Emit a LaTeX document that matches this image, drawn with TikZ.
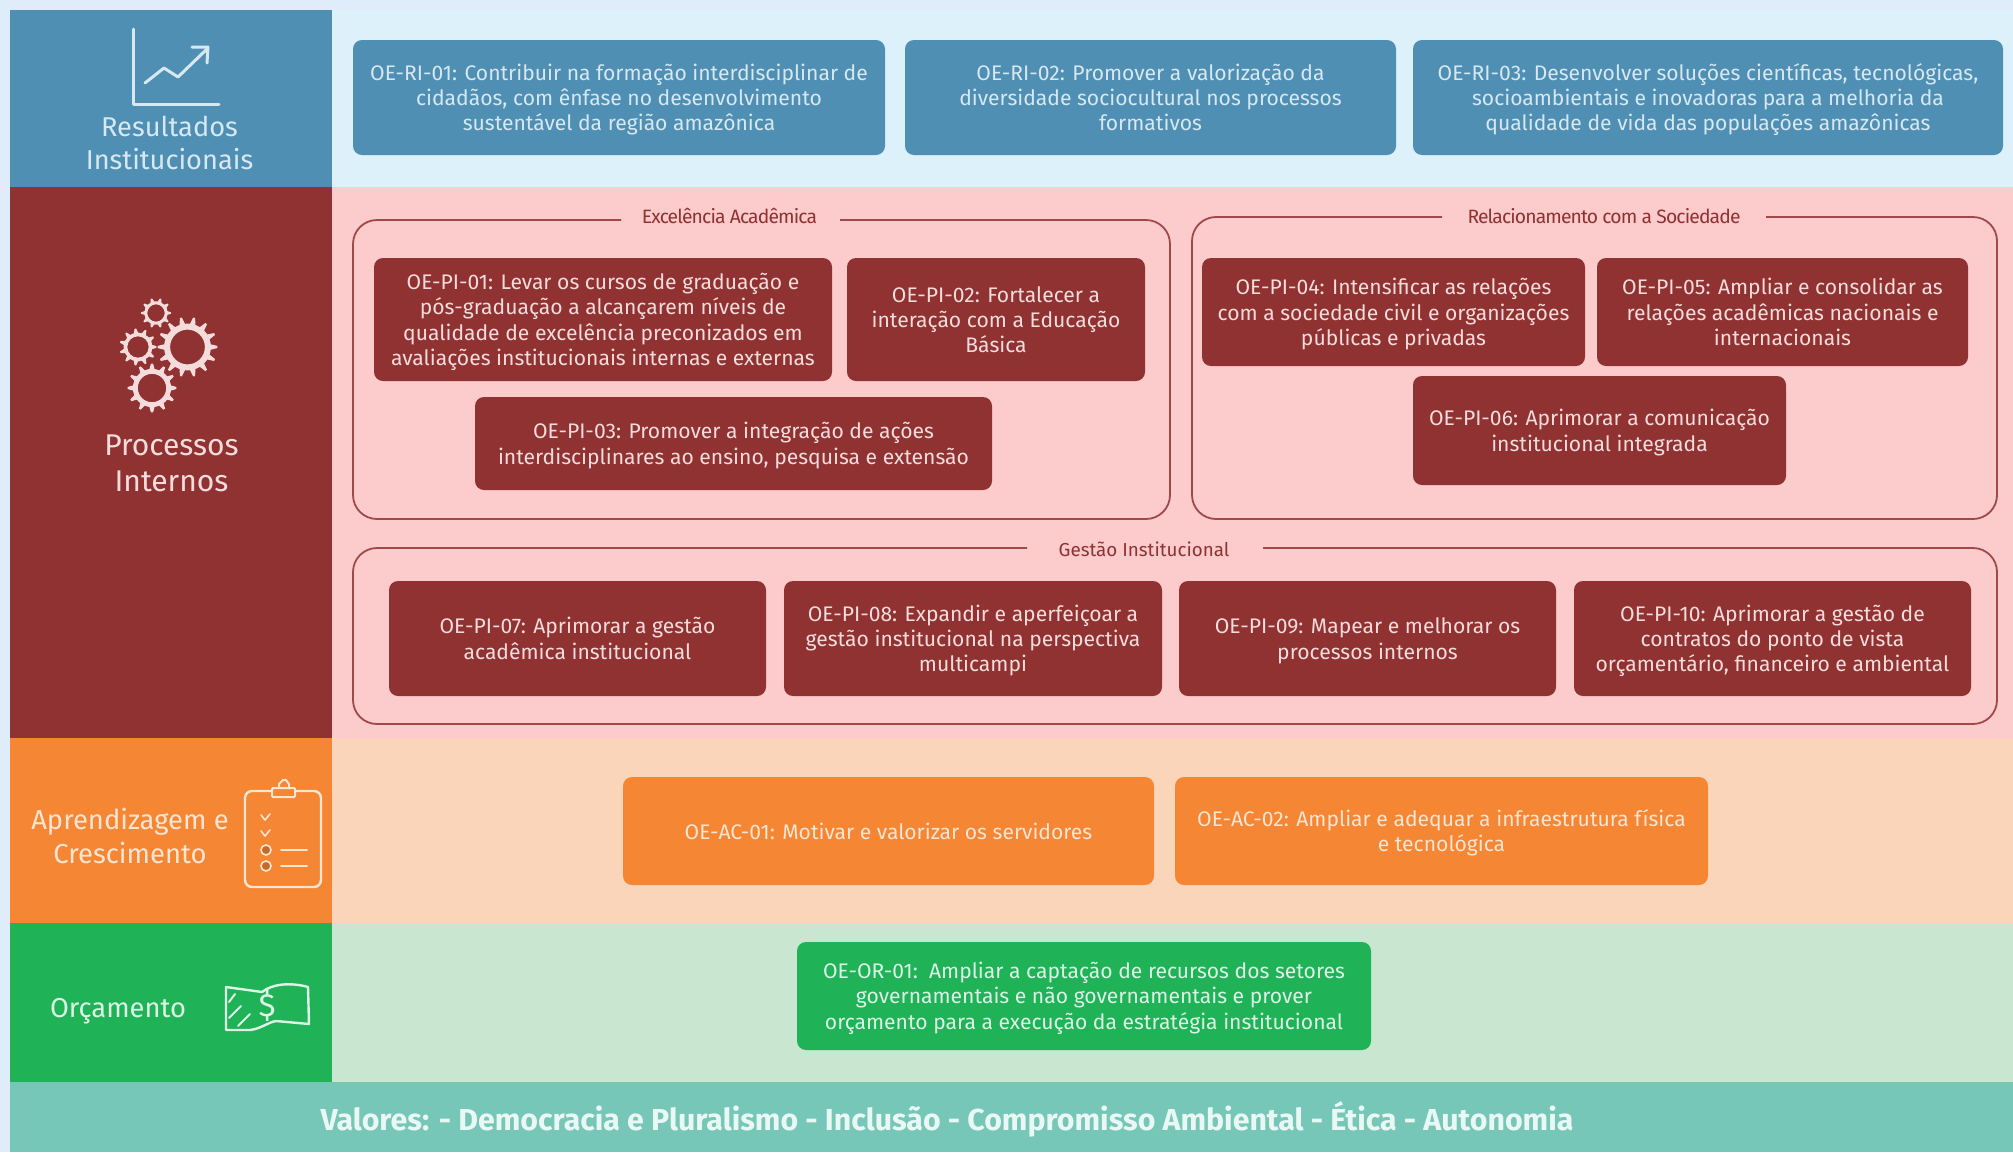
\documentclass[tikz,border=0pt]{standalone}
\usepackage{fontspec}
\setmainfont{Fira Sans}
\newfontfamily\tightf[LetterSpace=-4.5]{Fira Sans}
\definecolor{bgblue}{HTML}{DFEDFB}
\definecolor{blueD}{HTML}{4F8FB3}
\definecolor{blueL}{HTML}{DDF1FA}
\definecolor{blueT}{HTML}{D8E8F1}
\definecolor{redD}{HTML}{8F3231}
\definecolor{redL}{HTML}{FCCBCC}
\definecolor{redT}{HTML}{F5DCDC}
\definecolor{orD}{HTML}{F58634}
\definecolor{orL}{HTML}{FBD5BA}
\definecolor{orT}{HTML}{FCE5D2}
\definecolor{grD}{HTML}{1FB257}
\definecolor{grL}{HTML}{C8E6D0}
\definecolor{grT}{HTML}{DDF5E6}
\definecolor{teal}{HTML}{76C7B7}
\definecolor{tealT}{HTML}{EAF8F5}
\tikzset{
  x=1pt,y=-1pt,
  objbox/.style={rounded corners=9pt,inner sep=0pt,align=center,font=\fontsize{21.1}{25.2}\selectfont},
  sidelabel/.style={align=center,inner sep=0pt},
  frameline/.style={draw=redD!85!redL,line width=1.8pt,rounded corners=24pt},
  grouplabel/.style={inner sep=0pt,text=redD,font=\tightf\fontsize{19.3}{22}\selectfont},
  iconline/.style={line width=2pt,line cap=round,line join=round},
}
\newcommand{\objnode}[7]{%
  \pgfmathsetmacro{\cxx}{(#2+#4)/2}\pgfmathsetmacro{\cyy}{(#3+#5)/2}%
  \pgfmathsetmacro{\www}{#4-#2}\pgfmathsetmacro{\hhh}{#5-#3}%
  \node[objbox,fill=#6D,text=#6T,minimum width=\www pt,minimum height=\hhh pt] (#1) at (\cxx,\cyy) {\rule{0pt}{21pt}#7\rule[-5pt]{0pt}{5pt}};}
\newcommand{\gearicon}[4]{% x y r teeth
  \draw[iconline,draw=redT,line width=#3*0.2pt] (#1,#2) circle ({#3*0.68});
  \pgfmathsetmacro{\stepang}{360/#4}%
  \foreach \k in {1,...,#4}{
    \pgfmathsetmacro{\aa}{\k*\stepang}%
    \fill[redT] ({#1+#3*0.74*cos(\aa-\stepang*0.3)},{#2+#3*0.74*sin(\aa-\stepang*0.3)}) -- ({#1+#3*cos(\aa-\stepang*0.08)},{#2+#3*sin(\aa-\stepang*0.08)}) -- ({#1+#3*cos(\aa+\stepang*0.08)},{#2+#3*sin(\aa+\stepang*0.08)}) -- ({#1+#3*0.74*cos(\aa+\stepang*0.3)},{#2+#3*0.74*sin(\aa+\stepang*0.3)}) -- cycle;
  }}
\begin{document}
\begin{tikzpicture}
\useasboundingbox (0,0) rectangle (2013,1152);
% bands
\fill[bgblue] (0,0) rectangle (2013,1152);
\fill[blueL] (10,10) rectangle (2013,187);
\fill[redL] (10,187) rectangle (2013,738);
\fill[orL] (10,738) rectangle (2013,923);
\fill[grL] (10,923) rectangle (2013,1082);
\fill[blueD] (10,10) rectangle (332,187);
\fill[redD] (10,187) rectangle (332,738);
\fill[orD] (10,738) rectangle (332,923);
\fill[grD] (10,923) rectangle (332,1082);
\fill[teal] (10,1082) rectangle (2013,1152);
% side labels
\node[sidelabel,text=blueT,font=\fontsize{27.2}{33}\selectfont] (lri) at (169.5,142.5) {Resultados\\Institucionais};
\node[sidelabel,text=redT,font=\fontsize{30}{36}\selectfont] (lpi) at (171.5,463) {Processos\\Internos};
\node[sidelabel,text=orT,font=\fontsize{27.4}{34}\selectfont] (lac) at (130,836) {Aprendizagem e\\Crescimento};
\node[sidelabel,text=grT,font=\fontsize{27.3}{34}\selectfont] (lor) at (118,1011) {Orçamento};
\node[sidelabel,text=tealT,font=\bfseries\fontsize{30.3}{34}\selectfont] (vals) at (947,1119) {Valores: - Democracia e Pluralismo - Inclusão - Compromisso Ambiental - Ética - Autonomia};
% chart icon
\draw[iconline,draw=blueT,line width=3pt] (133,29) -- (133,104) -- (219,104);
\draw[iconline,draw=blueT,line width=3pt] (145,83) -- (164,68) -- (178,77) -- (207,49);
\draw[iconline,draw=blueT,line width=3pt] (192,47) -- (208,47) -- (207,63);
% gears
\gearicon{187.5}{347}{30}{14}
\gearicon{138}{347}{18.5}{11}
\gearicon{156}{313}{15}{10}
\gearicon{152}{388}{24.5}{12}
% clipboard
\draw[iconline,draw=orT,line width=2.4pt,rounded corners=7pt] (272,791) -- (245,791) -- (245,887) -- (321,887) -- (321,791) -- (295,791);
\draw[iconline,draw=orT,line width=2pt,rounded corners=1pt] (272,788) rectangle (295,797);
\draw[iconline,draw=orT,line width=2pt] (279,788) -- (279,784) -- (283,780) -- (286,780) -- (289,784) -- (289,788);
\draw[iconline,draw=orT,line width=1.6pt] (261,815) -- (265,820) -- (270,814);
\draw[iconline,draw=orT,line width=1.6pt] (261,831) -- (265,836) -- (270,830);
\draw[draw=orT,fill=orD!80!black,line width=1.6pt] (266,850) circle (5);
\draw[draw=orT,fill=orD!80!black,line width=1.6pt] (266,866) circle (5);
\draw[iconline,draw=orT,line width=2pt] (281,850) -- (307,850);
\draw[iconline,draw=orT,line width=2pt] (281,866) -- (307,866);
% money icon
\draw[iconline,draw=grT,line width=2.4pt] (226,987) -- (262,992) .. controls (272,984) and (290,982) .. (308,987) -- (309,1024) -- (276,1021) .. controls (268,1022) and (258,1031) .. (246,1030) -- (226,1030) -- cycle;
\draw[iconline,draw=grT,line width=2pt] (229,1002) -- (235,994);
\draw[iconline,draw=grT,line width=2pt] (229,1018) -- (241,1006);
\draw[iconline,draw=grT,line width=2pt] (238,1026) -- (250,1014);
\node[inner sep=0pt,text=grT,font=\fontsize{32}{32}\selectfont] (dollar) at (267,1006) {\$};
% objectives RI
\objnode{ri1}{353}{40}{885}{155}{blue}{OE-RI-01: Contribuir na formação interdisciplinar de\\cidadãos, com ênfase no desenvolvimento\\sustentável da região amazônica}
\objnode{ri2}{905}{40}{1396}{155}{blue}{OE-RI-02: Promover a valorização da\\diversidade sociocultural nos processos\\formativos}
\objnode{ri3}{1413}{40}{2003}{155}{blue}{OE-RI-03: Desenvolver soluções científicas, tecnológicas,\\socioambientais e inovadoras para a melhoria da\\qualidade de vida das populações amazônicas}
% frames
\coordinate (fa1) at (621,220); \coordinate (fa2) at (840,220);
\coordinate (fb1) at (1442,217); \coordinate (fb2) at (1766,217);
\coordinate (fc1) at (1027,548); \coordinate (fc2) at (1263,548);
\draw[frameline] (fa1) -- (353,220) -- (353,519) -- (1170,519) -- (1170,220) -- (fa2);
\draw[frameline] (fb1) -- (1192,217) -- (1192,519) -- (1997,519) -- (1997,217) -- (fb2);
\draw[frameline] (fc1) -- (353,548) -- (353,724) -- (1997,724) -- (1997,548) -- (fc2);
\node[grouplabel] (ga) at (729.5,216) {Excelência Acadêmica};
\node[grouplabel] (gb) at (1604,216) {Relacionamento com a Sociedade};
\node[grouplabel,font=\fontsize{18.8}{22}\selectfont] (gc) at (1144,549) {Gestão Institucional};
% PI
\objnode{pi1}{374}{258}{832}{381}{red}{OE-PI-01: Levar os cursos de graduação e\\pós-graduação a alcançarem níveis de\\qualidade de excelência preconizados em\\avaliações institucionais internas e externas}
\objnode{pi2}{847}{258}{1145}{381}{red}{OE-PI-02: Fortalecer a\\interação com a Educação\\Básica}
\objnode{pi3}{475}{397}{992}{490}{red}{OE-PI-03: Promover a integração de ações\\interdisciplinares ao ensino, pesquisa e extensão}
\objnode{pi4}{1202}{258}{1585}{366}{red}{OE-PI-04: Intensificar as relações\\com a sociedade civil e organizações\\públicas e privadas}
\objnode{pi5}{1597}{258}{1968}{366}{red}{OE-PI-05: Ampliar e consolidar as\\relações acadêmicas nacionais e\\internacionais}
\objnode{pi6}{1413}{376}{1786}{485}{red}{OE-PI-06: Aprimorar a comunicação\\institucional integrada}
\objnode{pi7}{389}{581}{766}{696}{red}{OE-PI-07: Aprimorar a gestão\\acadêmica institucional}
\objnode{pi8}{784}{581}{1162}{696}{red}{OE-PI-08: Expandir e aperfeiçoar a\\gestão institucional na perspectiva\\multicampi}
\objnode{pi9}{1179}{581}{1556}{696}{red}{OE-PI-09: Mapear e melhorar os\\processos internos}
\objnode{pi10}{1574}{581}{1971}{696}{red}{OE-PI-10: Aprimorar a gestão de\\contratos do ponto de vista\\orçamentário, financeiro e ambiental}
% AC
\objnode{ac1}{623}{777}{1154}{885}{or}{OE-AC-01: Motivar e valorizar os servidores}
\objnode{ac2}{1175}{777}{1708}{885}{or}{OE-AC-02: Ampliar e adequar a infraestrutura física\\e tecnológica}
% OR
\objnode{or1}{797}{942}{1371}{1050}{gr}{OE-OR-01:\ \ Ampliar a captação de recursos dos setores\\governamentais e não governamentais e prover\\orçamento para a execução da estratégia institucional}
\end{tikzpicture}
\end{document}
